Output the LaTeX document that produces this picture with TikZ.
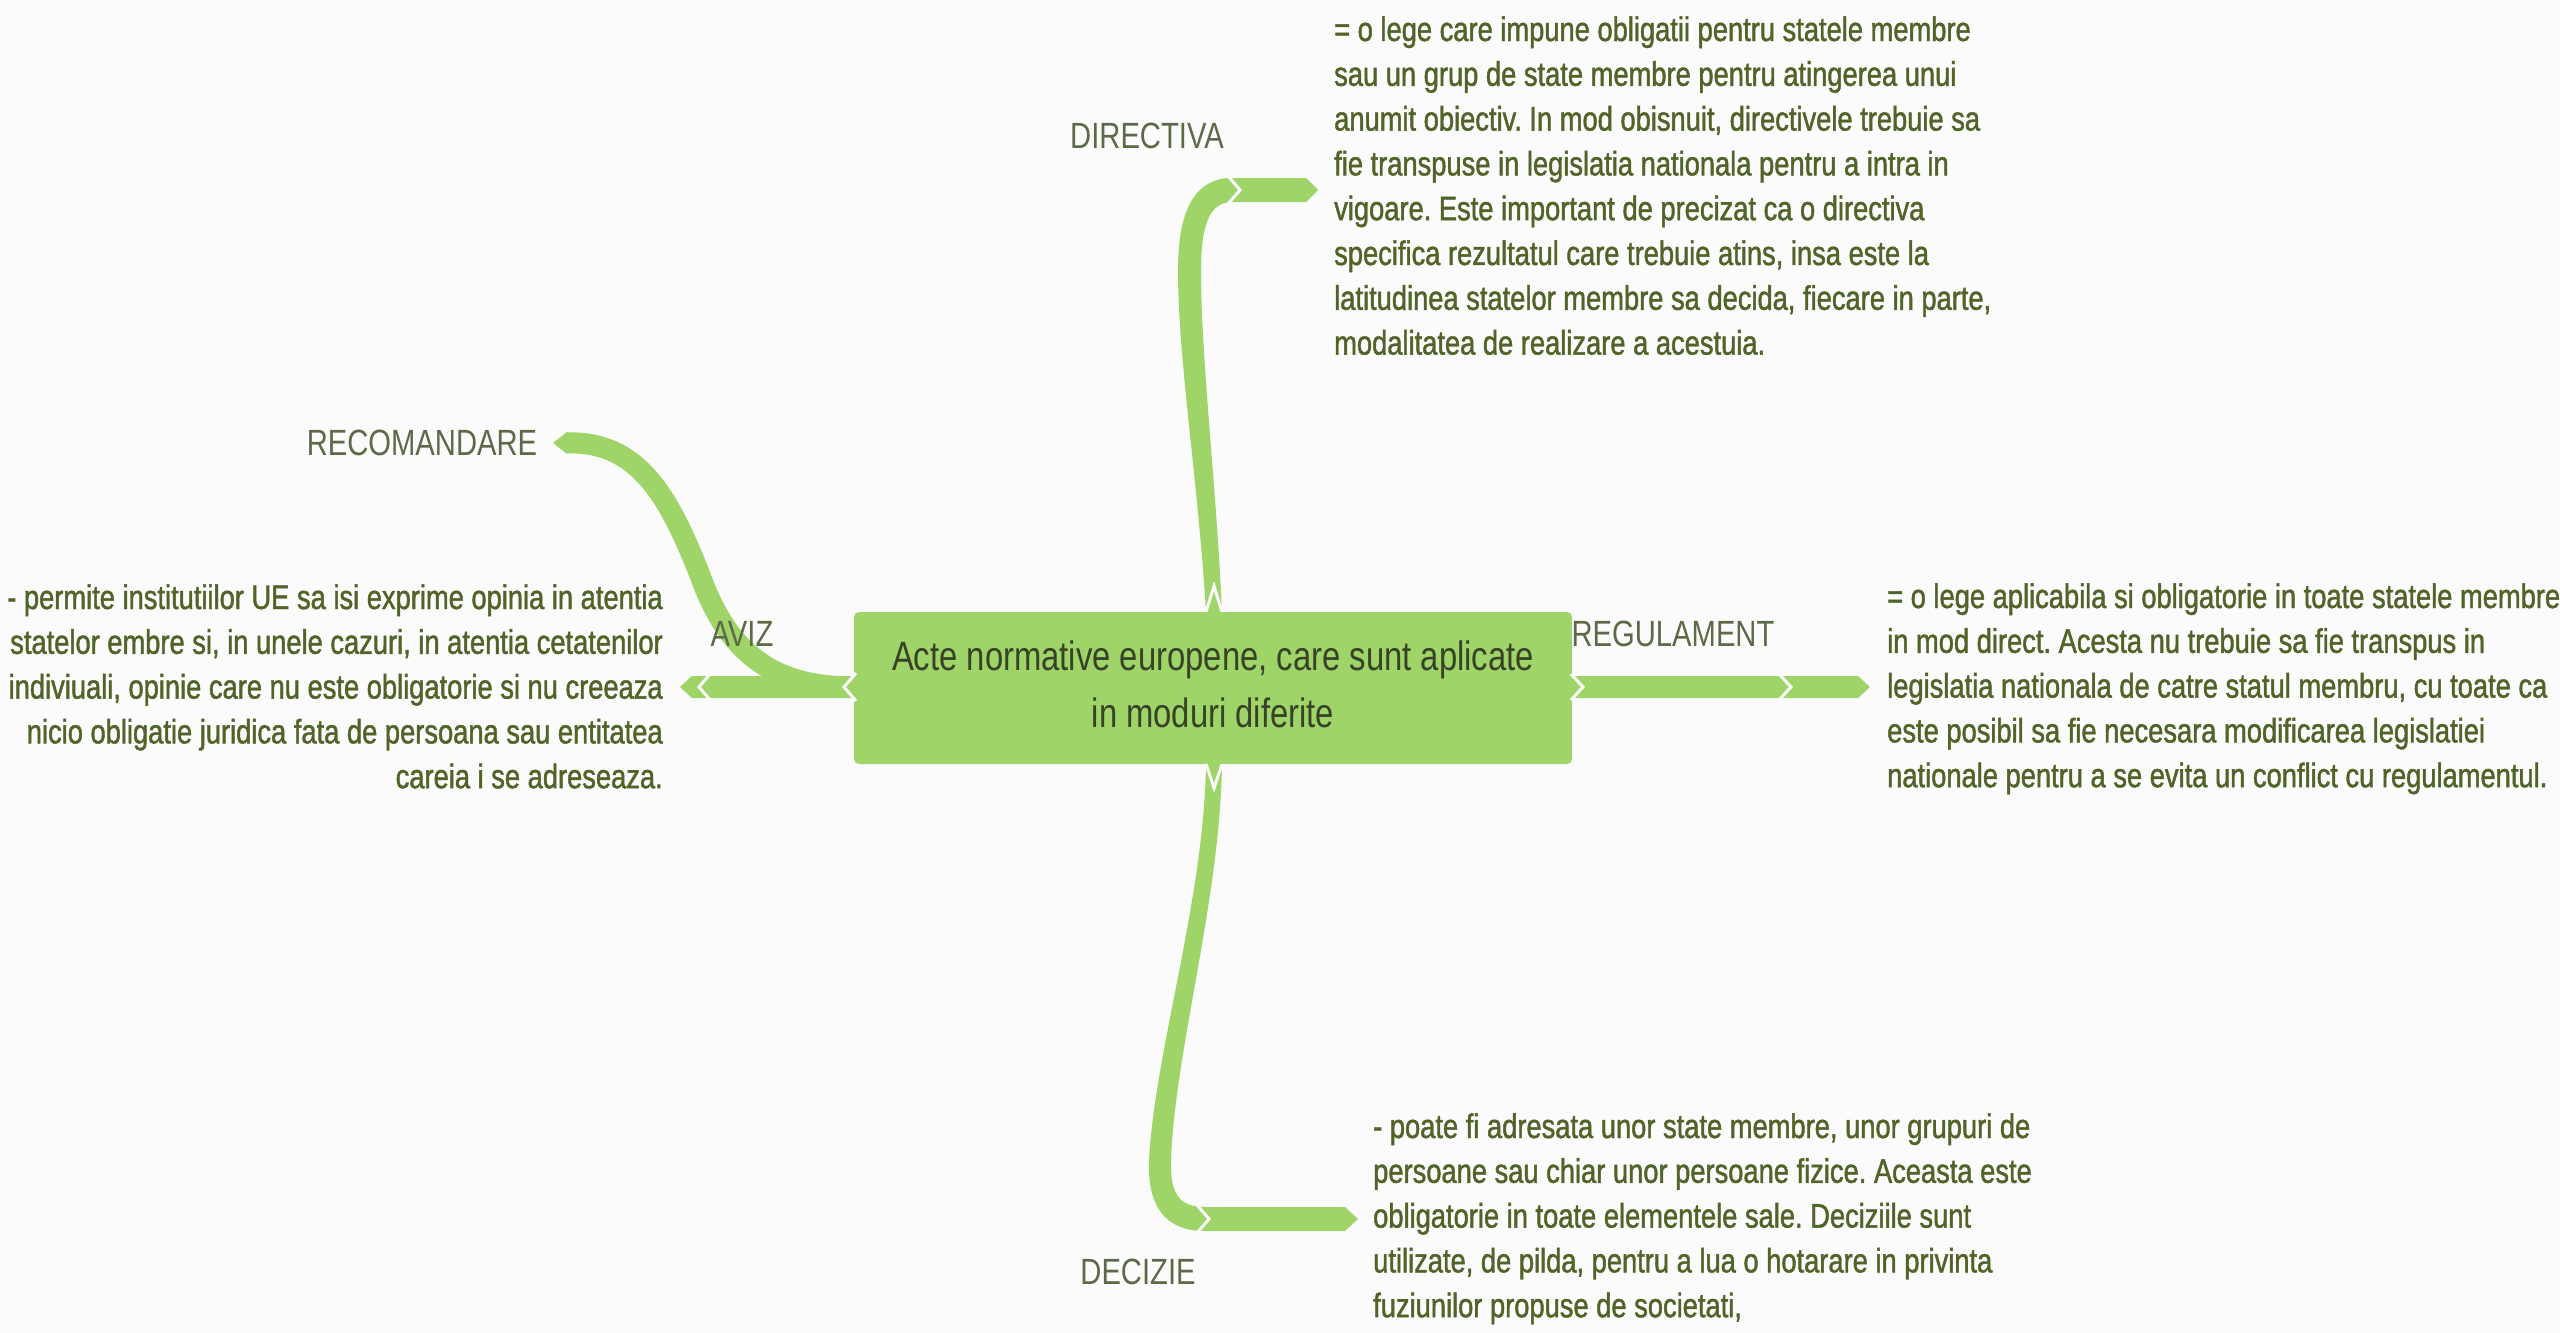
\documentclass[tikz,border=0pt]{standalone}
\usepackage{fontspec}
\setmainfont{Liberation Sans}[FakeStretch=0.8]
\newfontfamily\bodyfont{Liberation Sans}[FakeStretch=0.803,FakeBold=1.3]
\definecolor{bg}{RGB}{251,251,251}
\definecolor{leaf}{RGB}{158,212,104}
\definecolor{bodytxt}{RGB}{80,100,40}
\definecolor{labeltxt}{RGB}{92,106,72}
\definecolor{centertxt}{RGB}{55,66,38}
\tikzset{
  branch/.style={fill=leaf, draw=none},
  cut/.style={draw=bg, line width=3pt, line join=miter},
  lbl/.style={text=labeltxt, font=\fontsize{36.5}{40}\selectfont, inner sep=0pt},
  bodytext/.style={text=bodytxt, font=\bodyfont\fontsize{34}{44.8}\selectfont, inner sep=0pt},
  hubbox/.style={fill=leaf, draw=none, rounded corners=5pt, minimum width=718pt, minimum height=152pt, inner sep=0pt,
    text=centertxt, font=\fontsize{41}{57}\selectfont},
}
\frenchspacing
\begin{document}
\begin{tikzpicture}[x=1pt,y=-1pt]
\fill[bg] (0,0) rectangle (2560,1333);
\useasboundingbox (0,0) rectangle (2560,1333);

% ---------- connectors ----------
% DIRECTIVA
\fill[branch] (1206,612) .. controls (1198,480) and (1178,360) .. (1178,270)
  .. controls (1178,205) and (1198,178) .. (1232,178) -- (1306,178) -- (1318,190) -- (1306,202) -- (1232,202)
  .. controls (1212,202) and (1201,220) .. (1201,270)
  .. controls (1201,360) and (1216,480) .. (1222,612) -- cycle;
% REGULAMENT
\fill[branch] (1572,676) -- (1858,676) -- (1870,687) -- (1858,698) -- (1572,698) -- cycle;
% AVIZ
\fill[branch] (854,676) -- (692,676) -- (680,687) -- (692,698) -- (854,698) -- cycle;
% RECOMANDARE
\draw[leaf, line width=21pt] (566,443) .. controls (640,440) and (670,500) .. (700,575)
  .. controls (730,660) and (780,687) .. (854,687);
\fill[branch] (567,432) -- (553,443) -- (567,454) -- cycle;
% DECIZIE
\fill[branch] (1206,764) .. controls (1204,900) and (1155,1050) .. (1149,1160)
  .. controls (1147,1212) and (1170,1231) .. (1205,1231) -- (1345,1231) -- (1358,1219) -- (1345,1207) -- (1205,1207)
  .. controls (1180,1207) and (1170,1195) .. (1171,1160)
  .. controls (1175,1050) and (1220,900) .. (1222,764) -- cycle;

% ---------- central node ----------
\node[hubbox] (hub) at (1213,688) {\begin{tabular}{@{}c@{}}Acte normative europene, care sunt aplicate\\ in moduri diferite\end{tabular}};

% ---------- white cuts (joints) ----------
\draw[cut] (1206,612) -- (1214,586) -- (1222,612);
\draw[cut] (1228,176) -- (1240,190) -- (1228,204);
\draw[cut] (1571,674) -- (1583,687) -- (1571,700);
\draw[cut] (1779,674) -- (1791,687) -- (1779,700);
\draw[cut] (856,673) -- (844,687) -- (856,701);
\draw[cut] (711,673) -- (699,687) -- (711,701);
\draw[cut] (1206,764) -- (1214,788) -- (1222,764);
\draw[cut] (1197,1205) -- (1209,1219) -- (1197,1233);

% ---------- labels ----------
\node[lbl] (ldir) at (1147,136) {DIRECTIVA};
\node[lbl] (lreg) at (1673,634) {REGULAMENT};
\node[lbl] (laviz) at (742,634) {AVIZ};
\node[lbl] (ldec) at (1138,1272) {DECIZIE};
\node[lbl] (lrec) at (422,443) {RECOMANDARE};

% ---------- descriptions ----------
\node[bodytext, anchor=base west] (tdir) at (1334,41) {\begin{tabular}[t]{@{}l@{}}
= o lege care impune obligatii pentru statele membre\\
sau un grup de state membre pentru atingerea unui\\
anumit obiectiv. In mod obisnuit, directivele trebuie sa\\
fie transpuse in legislatia nationala pentru a intra in\\
vigoare. Este important de precizat ca o directiva\\
specifica rezultatul care trebuie atins, insa este la\\
latitudinea statelor membre sa decida, fiecare in parte,\\
modalitatea de realizare a acestuia.
\end{tabular}};

\node[bodytext, anchor=base west] (treg) at (1887,608) {\begin{tabular}[t]{@{}l@{}}
= o lege aplicabila si obligatorie in toate statele membre\\
in mod direct. Acesta nu trebuie sa fie transpus in\\
legislatia nationala de catre statul membru, cu toate ca\\
este posibil sa fie necesara modificarea legislatiei\\
nationale pentru a se evita un conflict cu regulamentul.
\end{tabular}};

\node[bodytext, anchor=base east] (taviz) at (663,609) {\begin{tabular}[t]{@{}r@{}}
- permite institutiilor UE sa isi exprime opinia in atentia\\
statelor embre si, in unele cazuri, in atentia cetatenilor\\
indiviuali, opinie care nu este obligatorie si nu creeaza\\
nicio obligatie juridica fata de persoana sau entitatea\\
careia i se adreseaza.
\end{tabular}};

\node[bodytext, anchor=base west] (tdec) at (1373,1138) {\begin{tabular}[t]{@{}l@{}}
- poate fi adresata unor state membre, unor grupuri de\\
persoane sau chiar unor persoane fizice. Aceasta este\\
obligatorie in toate elementele sale. Deciziile sunt\\
utilizate, de pilda, pentru a lua o hotarare in privinta\\
fuziunilor propuse de societati,
\end{tabular}};
\end{tikzpicture}
\end{document}
